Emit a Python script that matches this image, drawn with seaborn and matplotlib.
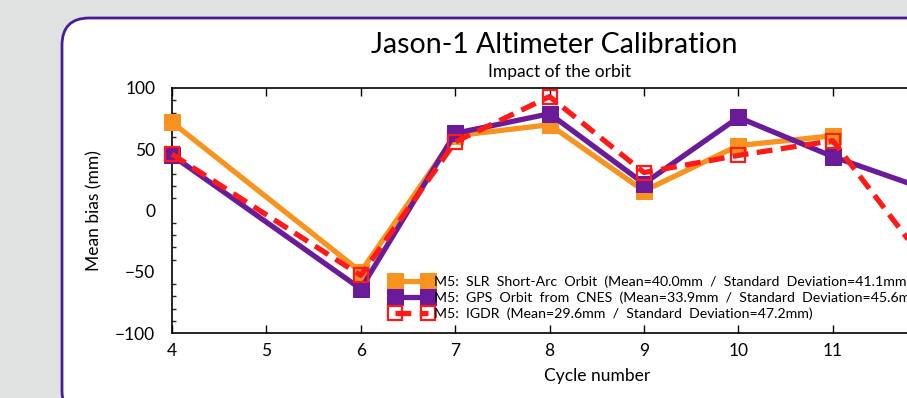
import matplotlib
matplotlib.use("Agg")
import matplotlib.pyplot as plt
import seaborn as sns
import pandas as pd
import numpy as np
from matplotlib.patches import FancyBboxPatch
from matplotlib.ticker import MultipleLocator

sns.set_style("white")
plt.rcParams['font.family'] = ['Lato', 'DejaVu Sans']
plt.rcParams['text.color'] = 'black'
plt.rcParams['axes.labelcolor'] = 'black'

cycles_slr = [4, 6, 7, 8, 9, 10, 11]
bias_slr = [72, -50, 61, 70, 16, 53, 61]
cycles_gps = [4, 6, 7, 8, 9, 10, 11, 12]
bias_gps = [45, -64, 63, 79, 22, 76, 44, 17]
cycles_igdr = [4, 6, 7, 8, 9, 10, 11, 12]
bias_igdr = [46, -53, 56, 93, 31, 45, 57, -44]
xtick_labels = ["4", "5", "6", "7", "8", "9", "10", "11", "", ""]

labels = [
    "M5:  SLR  Short-Arc  Orbit  (Mean=40.0mm  /  Standard  Deviation=41.1mm)",
    "M5:  GPS  Orbit  from  CNES  (Mean=33.9mm  /  Standard  Deviation=45.6mm)",
    "M5:  IGDR  (Mean=29.6mm  /  Standard  Deviation=47.2mm)",
]

W, H = 907, 398
fig = plt.figure(figsize=(W / 100, H / 100), dpi=100)
fig.patch.set_facecolor("#e0e2e2")

box = FancyBboxPatch((62 / W, -20 / H), 1.2, (398 - 18 + 20) / H,
                     boxstyle="round,pad=0,rounding_size=0.03",
                     transform=fig.transFigure, facecolor="white",
                     edgecolor="#4a1c96", linewidth=2, zorder=-5,
                     mutation_aspect=W / H)
fig.patches.append(box)

ax_w = 9 * 94.4 / W
ax = fig.add_axes([172 / W, (398 - 333) / H, ax_w, (333 - 88) / H])
ax.set_facecolor("none")
ax.set_zorder(2)

df_slr = pd.DataFrame({"cycle": cycles_slr, "bias": bias_slr})
df_gps = pd.DataFrame({"cycle": cycles_gps, "bias": bias_gps})
df_igdr = pd.DataFrame({"cycle": cycles_igdr, "bias": bias_igdr})

sns.lineplot(data=df_slr, x="cycle", y="bias", ax=ax, color="#f7931e",
             linewidth=3.8, marker="s", markersize=11, markeredgecolor="#f7931e",
             label=labels[0], zorder=3, clip_on=False)
sns.lineplot(data=df_gps, x="cycle", y="bias", ax=ax, color="#6a1b9a",
             linewidth=3.8, marker="s", markersize=11, markeredgecolor="#6a1b9a",
             label=labels[1], zorder=4, clip_on=False)
sns.lineplot(data=df_igdr, x="cycle", y="bias", ax=ax, color="#ff1a1a",
             linewidth=3.8, marker="s", markersize=9.5, markerfacecolor="none",
             markeredgecolor="#ff1a1a", markeredgewidth=1.6,
             label=labels[2], zorder=5, clip_on=False)
ax.lines[-1].set_dashes((3.0, 1.6))

ax.set_xlim(4, 13)
ax.set_ylim(-100, 100)
ax.set_xticks(range(4, 14))
ax.set_xticklabels(xtick_labels)
ax.set_yticks([-100, -50, 0, 50, 100])
ax.yaxis.set_minor_locator(MultipleLocator(10))
ax.tick_params(axis="both", which="major", direction="in", length=6, width=1,
               labelsize=12.5, colors="black", pad=7)
ax.tick_params(axis="x", top=True, bottom=True)
ax.tick_params(axis="y", which="minor", left=True, direction="in", length=3, width=1)
ax.tick_params(axis="y", pad=12)
for s in ax.spines.values():
    s.set_color("black")
    s.set_linewidth(1.2)

ax.set_xlabel("Cycle number", fontsize=12.5, labelpad=7)
ax.set_ylabel("Mean bias (mm)", fontsize=12.5, labelpad=9)

fig.text(554 / W, 1 - 45 / H, "Jason-1 Altimeter Calibration", ha="center",
         va="center", fontsize=20.5)
fig.text(560 / W, 1 - 72 / H, "Impact of the orbit", ha="center",
         va="center", fontsize=12.5)

leg = ax.legend(loc="upper left", bbox_to_anchor=((391 - 172) / (ax_w * W), (333 - 275) / (333 - 88)),
                frameon=False, fontsize=10.2, numpoints=2, handlelength=2.9,
                handletextpad=0.15, labelspacing=0.25, borderpad=0, borderaxespad=0)

fig.savefig("out.png", dpi=100, facecolor=fig.get_facecolor())
